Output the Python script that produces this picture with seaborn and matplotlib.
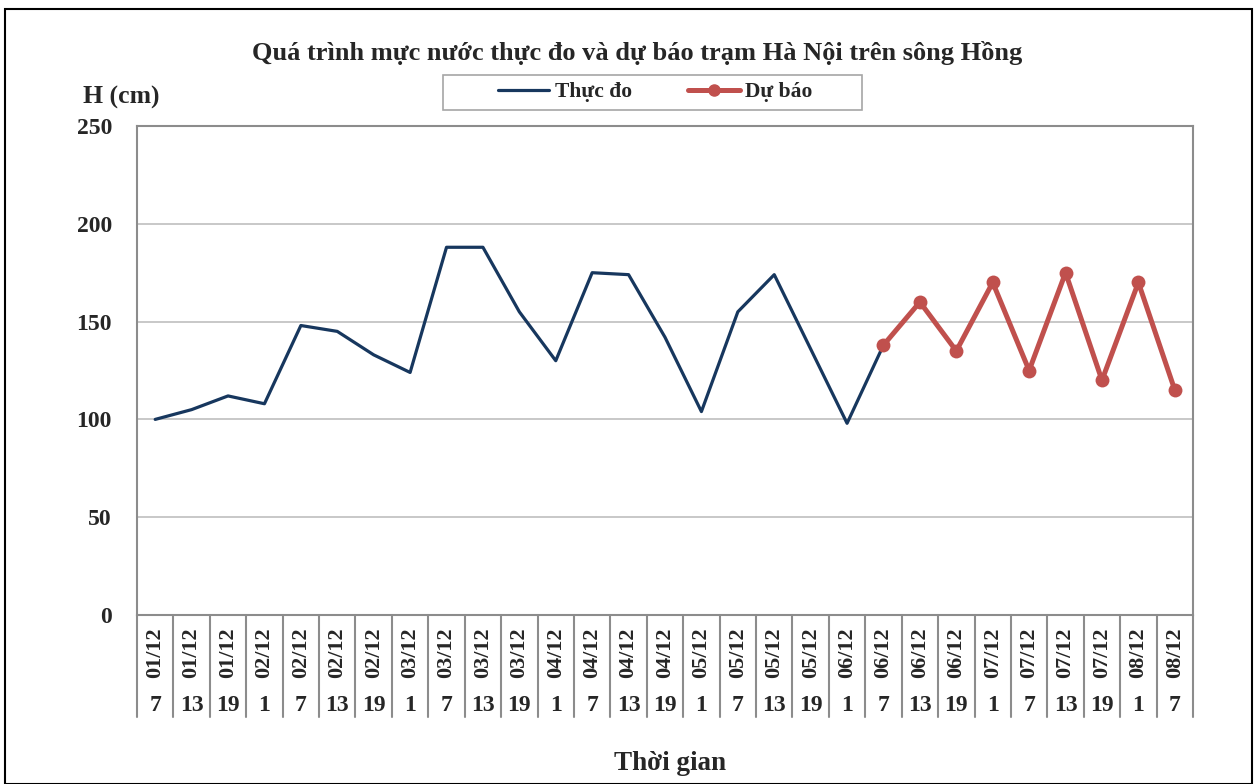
import numpy as np
import pandas as pd
import seaborn as sns
import matplotlib.pyplot as plt
from matplotlib.lines import Line2D
from matplotlib.patches import Rectangle

# x categories: date / hour
dates = ['01/12', '01/12', '01/12', '02/12', '02/12', '02/12', '02/12', '03/12',
         '03/12', '03/12', '03/12', '04/12', '04/12', '04/12', '04/12', '05/12',
         '05/12', '05/12', '05/12', '06/12', '06/12', '06/12', '06/12', '07/12',
         '07/12', '07/12', '07/12', '08/12', '08/12']
hours = ['7', '13', '19', '1', '7', '13', '19', '1', '7', '13', '19', '1', '7', '13',
         '19', '1', '7', '13', '19', '1', '7', '13', '19', '1', '7', '13', '19', '1', '7']

# water level (cm)
thuc_do = [100, 105, 112, 108, 148, 145, 133, 124, 188, 188, 155, 130, 175, 174,
           142, 104, 155, 174, 136, 98, 138]
du_bao = [138, 160, 135, 170, 125, 175, 120, 170, 115]
du_bao_start = 20

sns.set_style('white')
plt.rcParams['font.family'] = ['Liberation Serif', 'DejaVu Serif']
plt.rcParams['font.weight'] = 'bold'

navy = '#17375E'
red = '#C0504D'

fig = plt.figure(figsize=(12.57, 7.84), dpi=100)
ax = fig.add_axes([137 / 1257, 1 - 615 / 784, (1193 - 137) / 1257, (615 - 126) / 784])

df_obs = pd.DataFrame({'x': np.arange(len(thuc_do)), 'H': thuc_do})
df_fc = pd.DataFrame({'x': np.arange(du_bao_start, du_bao_start + len(du_bao)), 'H': du_bao})

sns.lineplot(data=df_obs, x='x', y='H', ax=ax, color=navy, linewidth=2.3)
sns.lineplot(data=df_fc, x='x', y='H', ax=ax, color=red, linewidth=3.6,
             marker='o', markersize=10, markeredgewidth=0)

ax.set_xlim(-0.5, len(dates) - 0.5)
ax.set_ylim(0, 250)
ax.set_yticks(range(0, 251, 50))
ax.set_yticklabels([str(v) for v in range(0, 251, 50)], fontsize=17, fontweight='bold')
ax.tick_params(axis='y', length=0, pad=18)
ax.set_xticks([])
ax.set_xlabel('')
ax.set_ylabel('')
ax.yaxis.grid(True, color='#BFBFBF', linewidth=1.2)
for s in ax.spines.values():
    s.set_color('#8C8C8C')
    s.set_linewidth(1.5)

# category table below the axis
tr = ax.get_xaxis_transform()
for i, (d, h) in enumerate(zip(dates, hours)):
    ax.text(i, -0.078, d, rotation=90, ha='center', va='center', transform=tr,
            fontsize=16, fontweight='bold')
    ax.text(i, -0.186, h, ha='center', va='center', transform=tr,
            fontsize=17, fontweight='bold')
for k in range(len(dates) + 1):
    ax.add_line(Line2D([k - 0.5, k - 0.5], [0, -0.209], transform=tr, color='#8C8C8C',
                       linewidth=1.5, clip_on=False))

fig.text(0.507, 1 - 53 / 784, 'Quá trình mực nước thực đo và dự báo trạm Hà Nội trên sông Hồng',
         ha='center', va='center', fontsize=19, fontweight='bold')
fig.text(83 / 1257, 1 - 97 / 784, 'H (cm)', ha='left', va='center', fontsize=18.5, fontweight='bold')
fig.text(670 / 1257, 1 - 763 / 784, 'Thời gian', ha='center', va='center', fontsize=19.5,
         fontweight='bold')

handles = [Line2D([], [], color=navy, linewidth=2.3),
           Line2D([], [], color=red, linewidth=3.6, marker='o', markersize=8)]
leg = fig.legend(handles, ['Thực đo', 'Dự báo'], ncol=2, loc='center',
                 bbox_to_anchor=(655 / 1257, 1 - 92 / 784), frameon=False,
                 handlelength=2.4, columnspacing=2.6, handletextpad=0.25,
                 prop={'size': 15.5, 'weight': 'bold'})
# legend box
fig.patches.append(Rectangle((443 / 1257, 1 - 110 / 784), 419 / 1257, 35 / 784,
                             transform=fig.transFigure, fill=False,
                             edgecolor='#A6A6A6', linewidth=1.2))

# outer chart border
fig.patches.append(Rectangle((5 / 1257, 0), 1247 / 1257, 1 - 9 / 784, transform=fig.transFigure,
                             fill=False, edgecolor='black', linewidth=1.5))

fig.savefig('out.png', dpi=100)
